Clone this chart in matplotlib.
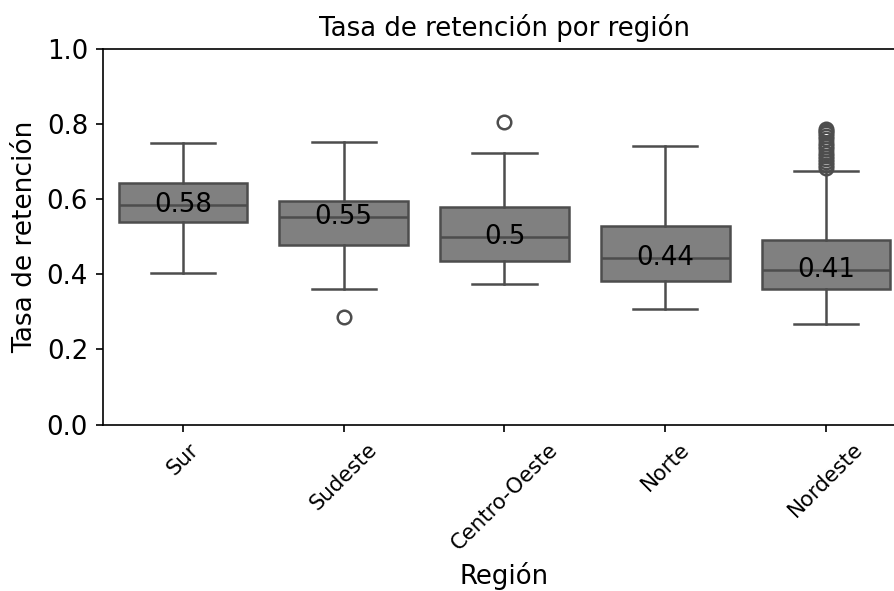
import matplotlib
matplotlib.use("Agg")
import matplotlib.pyplot as plt

regions = ["Sur", "Sudeste", "Centro-Oeste", "Norte", "Nordeste"]
whislo = [0.403, 0.360, 0.374, 0.308, 0.268]
q1 = [0.539, 0.477, 0.435, 0.382, 0.360]
medians = [0.583, 0.553, 0.500, 0.444, 0.410]
q3 = [0.643, 0.594, 0.578, 0.528, 0.490]
whishi = [0.750, 0.752, 0.723, 0.742, 0.675]
fliers = [
    [],
    [0.287],
    [0.805],
    [],
    [0.683, 0.690, 0.698, 0.706, 0.714, 0.723, 0.732, 0.741,
     0.750, 0.759, 0.767, 0.775, 0.781, 0.786],
]

stats = []
for i, name in enumerate(regions):
    stats.append({
        "label": name,
        "whislo": whislo[i],
        "q1": q1[i],
        "med": medians[i],
        "q3": q3[i],
        "whishi": whishi[i],
        "fliers": fliers[i],
    })

box_color = "#808080"
line_color = "#4d4d4d"
lw = 1.2

fig = plt.figure(figsize=(894 / 150, 591 / 150), dpi=150)
ax = fig.add_axes([0.1148, 0.2817, 0.899, 0.6362])

ax.bxp(
    stats,
    positions=range(len(regions)),
    widths=0.8,
    patch_artist=True,
    boxprops=dict(facecolor=box_color, edgecolor=line_color, linewidth=lw),
    medianprops=dict(color=line_color, linewidth=lw),
    whiskerprops=dict(color=line_color, linewidth=lw),
    capprops=dict(color=line_color, linewidth=lw),
    flierprops=dict(marker="o", markerfacecolor="none",
                    markeredgecolor=line_color, markersize=6.5,
                    markeredgewidth=lw),
)

for i, m in enumerate(medians):
    ax.text(i, m, str(round(m, 2)), ha="center", va="center",
            fontsize=12.5, color="black")

ax.set_xlim(-0.5, len(regions) - 0.5)
ax.set_ylim(0, 1.0)
ax.set_yticks([0.0, 0.2, 0.4, 0.6, 0.8, 1.0])
ax.set_xticks(range(len(regions)))
ax.set_xticklabels(regions, rotation=45)
ax.tick_params(axis="y", labelsize=12.5)
ax.tick_params(axis="x", labelsize=10.2)
ax.set_title("Tasa de retención por región", fontsize=12.5)
ax.set_xlabel("Región", fontsize=12.5)
ax.set_ylabel("Tasa de retención", fontsize=12.7)

fig.savefig("out.png", dpi=150)
